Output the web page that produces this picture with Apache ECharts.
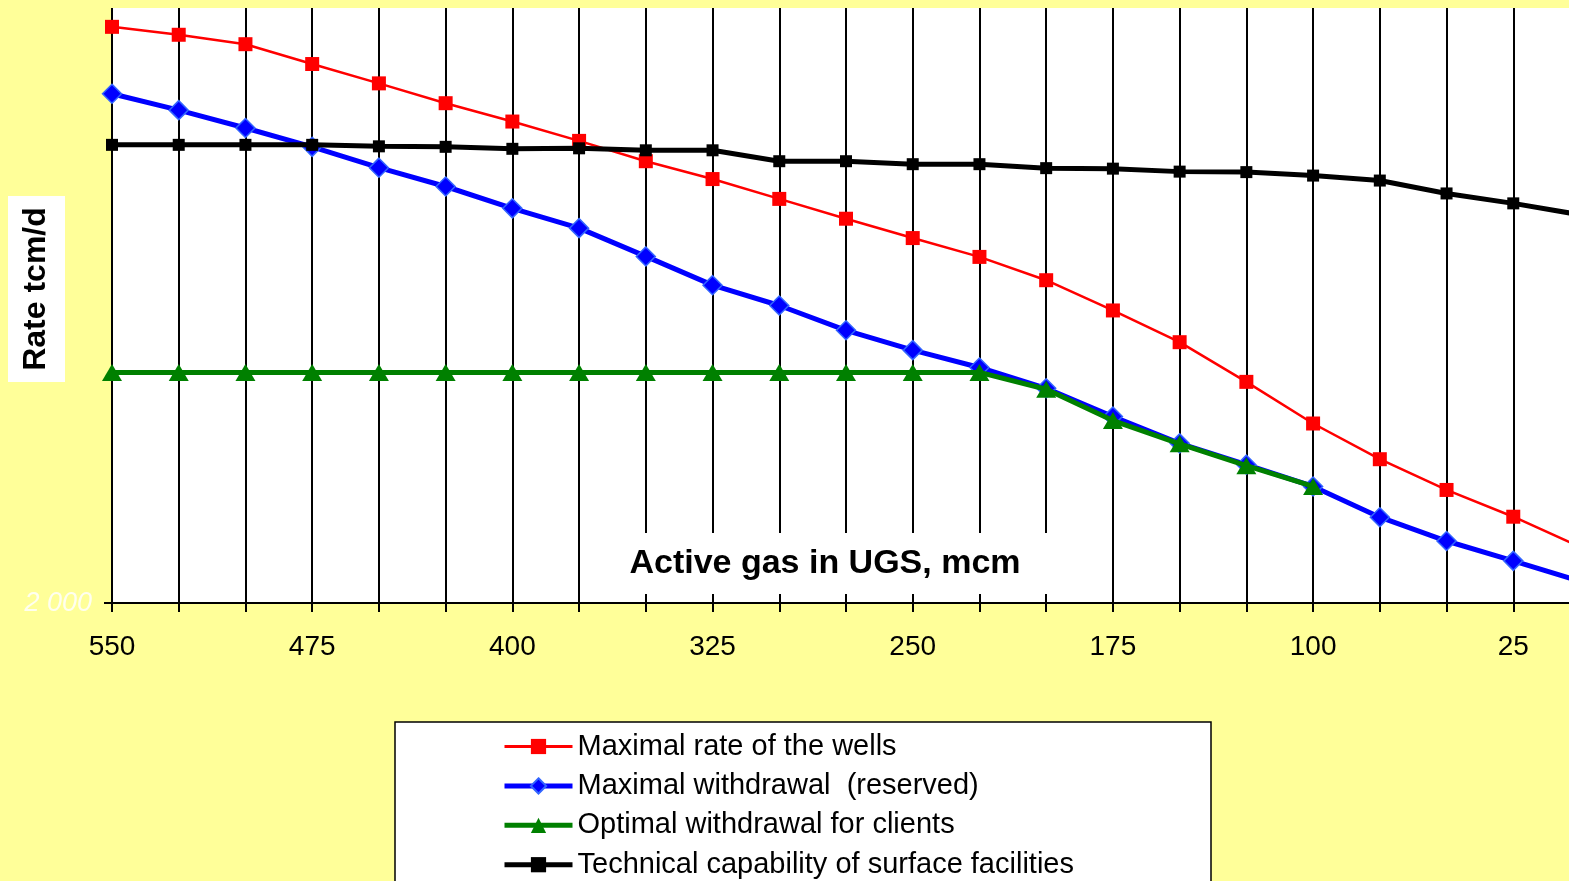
<!DOCTYPE html>
<html>
<head>
<meta charset="utf-8">
<script src="https://cdn.jsdelivr.net/npm/echarts@6/dist/echarts.min.js"></script>
<style>
html,body{margin:0;padding:0;background:#FFFF99;}
#chart{width:1569px;height:881px;}
</style>
</head>
<body>
<div id="chart"></div>
<script>
// Active gas in UGS, mcm (x axis categories)
const categories = ['550','525','500','475','450','425','400','375','350','325','300','275','250','225','200','175','150','125','100','75','50','25','0'];
// Rate tcm/d
const maxRateWells = [13620,13460,13270,12870,12480,12080,11710,11320,10910,10550,10150,9750,9360,8980,8510,7900,7260,6460,5620,4900,4280,3740,3130];
const maxWithdrawal = [12270,11940,11580,11200,10780,10400,9960,9560,8990,8410,8000,7500,7100,6750,6330,5760,5220,4790,4350,3730,3250,2850,2440];
const optimalWithdrawal = [6650,6650,6650,6650,6650,6650,6650,6650,6650,6650,6650,6650,6650,6650,6310,5680,5210,4770,4350,null,null,null,null];
const technicalCapability = [11240,11240,11240,11240,11210,11200,11160,11170,11130,11130,10910,10910,10850,10850,10770,10760,10700,10690,10620,10520,10260,10060,9830];
const seriesNames = ['Maximal rate of the wells','Maximal withdrawal  (reserved)','Optimal withdrawal for clients','Technical capability of surface facilities'];
const yTickLabels = [2000];

const chart = echarts.init(document.getElementById('chart'));
const FONT = 'Liberation Sans, Arial, sans-serif';
chart.setOption({
  backgroundColor: '#FFFF99',
  animation: false,
  grid: {left: 112, top: 8, width: 1468, height: 595, containLabel: false, outerBoundsMode: 'none', show: true, backgroundColor: '#ffffff', borderWidth: 0},
  xAxis: {
    type: 'category',
    data: categories,
    boundaryGap: false,
    axisLine: {lineStyle: {color: '#000', width: 2}},
    axisTick: {show: true, interval: 0, length: 9, lineStyle: {color: '#000', width: 2}},
    axisLabel: {interval: 2, fontSize: 28, color: '#000', fontFamily: FONT, margin: 30},
    splitLine: {show: true, interval: 0, lineStyle: {color: '#000', width: 2}}
  },
  yAxis: {
    type: 'value',
    min: 2000, max: 14000, interval: 2000,
    axisLine: {show: false},
    axisTick: {show: true, length: 8, customValues: yTickLabels, lineStyle: {color: '#000', width: 2}},
    axisLabel: {customValues: yTickLabels, formatter: v => v === 2000 ? '2 000' : '', color: 'rgba(255,255,255,0.85)', fontStyle: 'italic', fontSize: 27, fontFamily: FONT, margin: 20},
    splitLine: {show: false}
  },
  legend: {
    orient: 'vertical',
    left: 502, top: 730, height: 200, padding: 0,
    itemWidth: 68, itemHeight: 19, itemGap: 6.4,
    textStyle: {fontSize: 29, color: '#000', fontFamily: FONT, lineHeight: 33},
    data: [
      {name: seriesNames[0], lineStyle: {width: 3}},
      {name: seriesNames[1], lineStyle: {width: 5}},
      {name: seriesNames[2], lineStyle: {width: 5}},
      {name: seriesNames[3], lineStyle: {width: 5}}
    ]
  },
  series: [
    {name: seriesNames[0], type: 'line', data: maxRateWells, symbol: 'rect', symbolSize: 14,
     lineStyle: {color: '#FF0000', width: 2.5}, itemStyle: {color: '#FF0000'}, z: 2},
    {name: seriesNames[1], type: 'line', data: maxWithdrawal, symbol: 'diamond', symbolSize: 19,
     lineStyle: {color: '#0000FF', width: 5}, itemStyle: {color: '#0000FF', borderColor: '#3366FF', borderWidth: 1.5}, z: 3},
    {name: seriesNames[2], type: 'line', data: optimalWithdrawal, symbol: 'triangle', symbolSize: [20, 17],
     lineStyle: {color: '#008000', width: 5}, itemStyle: {color: '#008000'}, z: 4},
    {name: seriesNames[3], type: 'line', data: technicalCapability, symbol: 'rect', symbolSize: 12,
     lineStyle: {color: '#000000', width: 5}, itemStyle: {color: '#000000'}, z: 5}
  ],
  graphic: [
    {type: 'rect', z: 10, shape: {x: 580, y: 533, width: 468, height: 61}, style: {fill: '#ffffff'}},
    {type: 'text', z: 11, x: 825, y: 564, style: {text: 'Active gas in UGS, mcm', font: 'bold 34px ' + FONT, fill: '#000', align: 'center', verticalAlign: 'middle'}},
    {type: 'rect', z: 10, shape: {x: 8, y: 196, width: 57, height: 186}, style: {fill: '#ffffff'}},
    {type: 'text', z: 11, x: 36, y: 289, rotation: Math.PI / 2, style: {text: 'Rate tcm/d', font: 'bold 32px ' + FONT, fill: '#000', align: 'center', verticalAlign: 'middle'}},
    {type: 'rect', z: -1, shape: {x: 395, y: 722, width: 816, height: 200}, style: {fill: '#ffffff', stroke: '#000', lineWidth: 1.5}}
  ]
});
</script>
</body>
</html>
